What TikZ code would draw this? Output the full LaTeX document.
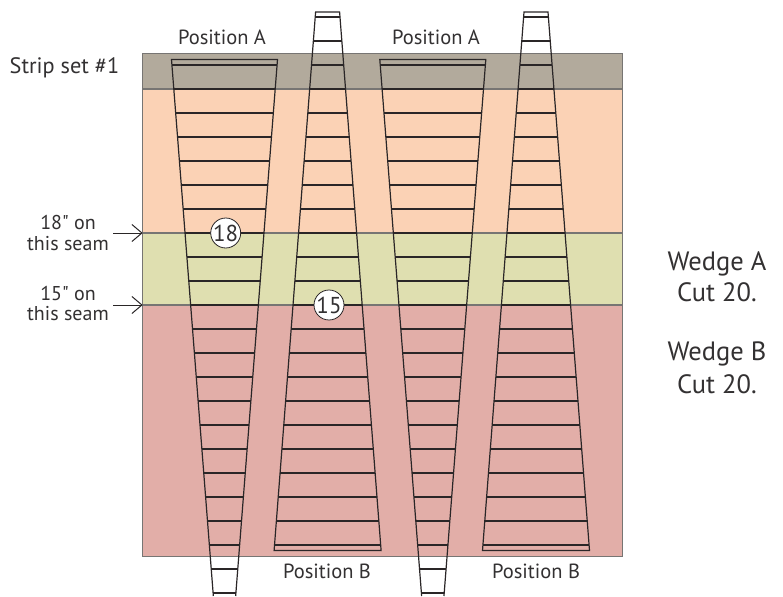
\documentclass[tikz,border=0pt]{standalone}
\usepackage{fontspec}
\setmainfont{PT Sans}
\newfontfamily\plainsans{PT Sans}
\usetikzlibrary{arrows.meta}
\definecolor{inkc}{HTML}{2A2627}
\definecolor{txtc}{HTML}{333132}
\definecolor{edgec}{HTML}{777573}
\definecolor{stripa}{HTML}{B2AA9C}
\definecolor{stripb}{HTML}{FBD2B5}
\definecolor{stripc}{HTML}{DFDFB0}
\definecolor{stripd}{HTML}{E2AEA8}
\tikzset{
  stripband/.style={draw=edgec,line width=1.2pt},
  rung/.style={draw=inkc,line width=1.8pt},
  wedgeside/.style={draw=inkc,line width=1.2pt,line join=miter},
  big/.style={text=txtc,font=\fontsize{26.5}{30}\selectfont,inner sep=0pt},
  mid/.style={text=txtc,font=\fontsize{20.5}{24}\selectfont,inner sep=0pt},
  small/.style={text=txtc,font=\plainsans\fontsize{20}{22}\selectfont,inner sep=0pt},
  badge/.style={circle,draw=inkc,fill=white,line width=.8pt,minimum size=26pt,inner sep=0pt,text=txtc,font=\fontsize{23}{26}\selectfont},
  pointer/.style={draw=inkc,line width=1pt,-{Straight Barb[length=10pt,width=17pt,line width=1pt]}}
}
\newcommand{\wedgeA}[1]{%
  \pgfmathsetmacro{\hA}{53}\pgfmathsetmacro{\hB}{52.5-0.0779*(596-65.3)}%
  \draw[wedgeside] (#1-\hB,596) -- (#1-\hA,59.5) -- (#1+\hA,59.5) -- (#1+\hB,596);
  \foreach \k in {0,...,22}{%
    \pgfmathsetmacro{\yy}{65.3+\k*23.97}%
    \pgfmathsetmacro{\hh}{52.5-0.0779*(\yy-65.3)}%
    \draw[rung] (#1-\hh,\yy) -- (#1+\hh,\yy);
  }%
}
\newcommand{\wedgeB}[1]{%
  \draw[wedgeside] (#1-53.5,550.5) -- (#1-12,12) -- (#1+12,12) -- (#1+53.5,550.5) -- cycle;
  \foreach \k in {-2,...,20}{%
    \pgfmathsetmacro{\yy}{65.3+\k*23.97}%
    \pgfmathsetmacro{\hh}{12+0.0771*(\yy-12)}%
    \draw[rung] (#1-\hh,\yy) -- (#1+\hh,\yy);
  }%
}
\begin{document}
\begin{tikzpicture}[x=1pt,y=-1pt]
\useasboundingbox (0,0) rectangle (783,596);
\fill[white] (0,0) rectangle (783,596);
\filldraw[stripband,fill=stripa] (142.5,53.5) rectangle (622.5,89);
\filldraw[stripband,fill=stripb] (142.5,89) rectangle (622.5,233);
\filldraw[stripband,fill=stripc] (142.5,233) rectangle (622.5,305);
\filldraw[stripband,fill=stripd] (142.5,305) rectangle (622.5,556.5);
\wedgeA{224.5}
\wedgeB{327.6}
\wedgeA{432.8}
\wedgeB{536}
\node[badge] (n18) at (225.7,233) {18};
\node[badge] (n15) at (329,305) {15};
\node[mid] (pa1) at (222,37) {Position A};
\node[mid] (pa2) at (436,37) {Position A};
\node[mid] (pb1) at (327,571) {Position B};
\node[mid] (pb2) at (536,571) {Position B};
\node[big,font=\fontsize{22.3}{26}\selectfont] (strip) at (64.5,68) {Strip set \#1};
\node[big] (wa) at (717,264) {Wedge A};
\node[big] (ca) at (717,292) {Cut 20.};
\node[big] (wb) at (717,354) {Wedge B};
\node[big] (cb) at (717,384) {Cut 20.};
\node[small] (s18a) at (68,222) {18" on};
\node[small] (s18b) at (68,244) {this seam};
\node[small] (s15a) at (68,293) {15" on};
\node[small] (s15b) at (68,314) {this seam};
\coordinate (f18) at (113,233);
\coordinate (t18) at (142.7,233);
\coordinate (f15) at (113,305);
\coordinate (t15) at (142.7,305);
\draw[pointer] (f18) -- (t18);
\draw[pointer] (f15) -- (t15);
\end{tikzpicture}
\end{document}
